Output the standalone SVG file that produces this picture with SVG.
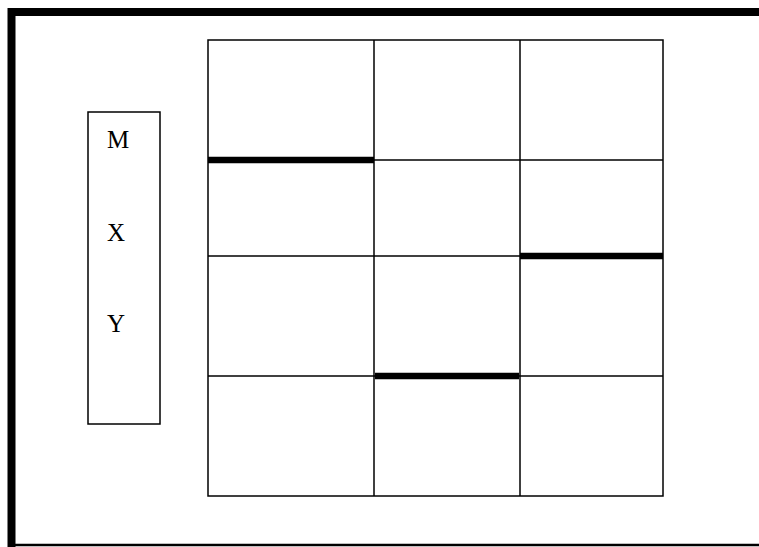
<svg xmlns="http://www.w3.org/2000/svg" width="759" height="547" viewBox="0 0 759 547">
<style>
.thin{stroke:#000;stroke-width:1.5;fill:none}
.thick{stroke:#000;stroke-width:6.5;fill:none}
.frame{stroke:#000;stroke-width:8;fill:none}
.lbl{font-family:"Liberation Serif","Times New Roman",serif;font-size:25px;fill:#000}
</style>
<rect width="759" height="547" fill="#fff"/>
<g id="frame">
<path class="frame" d="M11.5,547 V12 H759"/>
<line x1="8" y1="545" x2="759" y2="545" stroke="#000" stroke-width="2.5"/>
</g>
<g id="legend">
<rect class="thin" x="88" y="112" width="72" height="312"/>
<text class="lbl" x="107" y="148">M</text>
<text class="lbl" x="107" y="241">X</text>
<text class="lbl" x="107" y="332">Y</text>
</g>
<g id="grid">
<rect class="thin" x="208" y="40" width="455" height="456"/>
<line class="thin" x1="374" y1="40" x2="374" y2="496"/>
<line class="thin" x1="520" y1="40" x2="520" y2="496"/>
<line class="thin" x1="208" y1="160" x2="663" y2="160"/>
<line class="thin" x1="208" y1="256" x2="663" y2="256"/>
<line class="thin" x1="208" y1="376" x2="663" y2="376"/>
</g>
<g id="walls">
<line class="thick" x1="208" y1="160" x2="374" y2="160"/>
<line class="thick" x1="520" y1="256" x2="663" y2="256"/>
<line class="thick" x1="375" y1="376" x2="519" y2="376"/>
</g>
</svg>
